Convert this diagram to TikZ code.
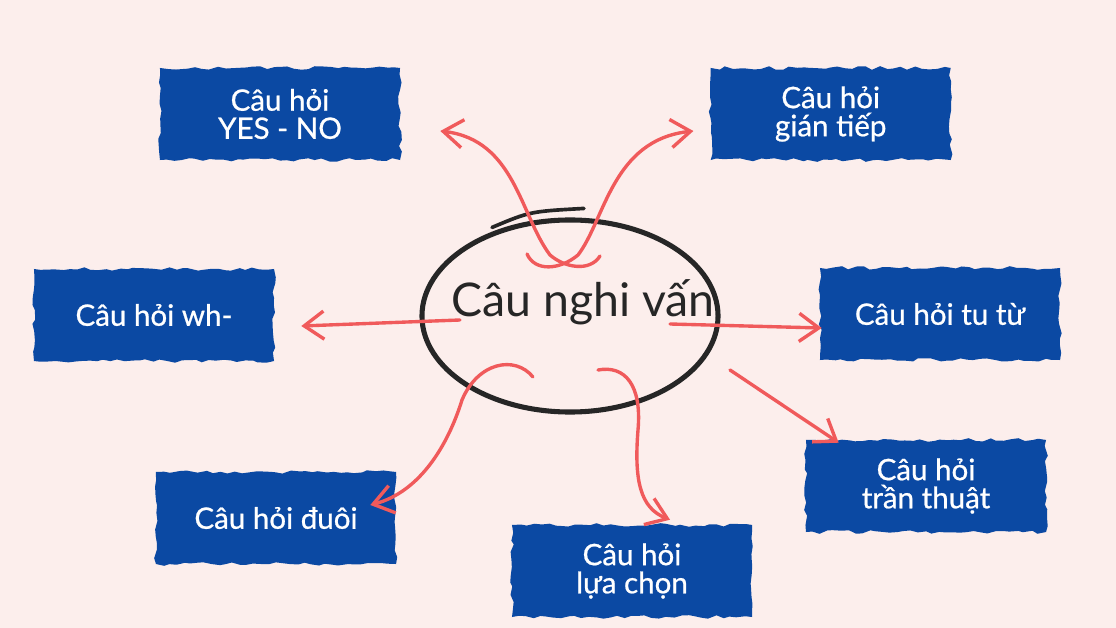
\documentclass[tikz,border=0pt]{standalone}
\usepackage{fontspec}
\setmainfont{Lato}
\newfontfamily\brushfont{Lato}[FakeBold=0.7]
\usetikzlibrary{positioning,calc,arrows.meta,shapes.geometric,decorations.pathmorphing}
\definecolor{paper}{HTML}{FCEEEC}
\definecolor{brushblue}{HTML}{0B49A3}
\definecolor{arrowred}{HTML}{F05A5B}
\definecolor{ink}{HTML}{262626}

\begin{document}
\begin{tikzpicture}[x=0.025cm,y=-0.025cm,
    qbox/.style={rectangle,fill=brushblue,minimum width=6cm,minimum height=2.3cm,
      text=white,font=\brushfont\fontsize{21}{20}\selectfont,align=center,
      decorate,decoration={random steps,segment length=5pt,amplitude=1.3pt}},
    hub/.style={ellipse,draw=ink,line width=3.6pt,minimum width=7.4cm,minimum height=4.8cm},
    edge/.style={-{Straight Barb[length=14pt,width=20pt]},arrowred,line width=2.4pt,line cap=round}]

    \pgfmathsetseed{7}
    \fill[paper] (0,0) rectangle (1116,628);
    \useasboundingbox (0,0) rectangle (1116,628);

    %--------------------------------------------
    % Nodes
    \node[hub] (hub) at (570,316) {};
    \draw[ink, line width=2.6pt, line cap=round] ([shift={(-78,10)}]hub.north)
        .. controls ([shift={(-40,-6)}]hub.north) .. ([shift={(14,-9)}]hub.north);
    \node[font=\fontsize{33}{34}\selectfont, text=ink] (title) at ([shift={(13,-14)}]hub.center) {Câu nghi vấn};

    \node[qbox] (yesno) at (280,114) {Câu hỏi\\YES - NO};
    \node[qbox, right=7.75cm of yesno] (indirect) {Câu hỏi\\gián tiếp};
    \node[qbox] (wh) at (154,315) {Câu hỏi wh-};
    \node[qbox] (rhet) at (940,314) {Câu hỏi tu từ};
    \node[qbox] (stmt) at (926,486) {Câu hỏi\\trần thuật};
    \node[qbox] (choice) at (632,571) {Câu hỏi\\lựa chọn};
    \node[qbox] (tag) at (276,518) {Câu hỏi đuôi};

    %--------------------------------------------
    % Start points inside the ellipse
    \coordinate (s-yn) at (600,256);
    \coordinate (s-gt) at (527,254);
    \coordinate (s-wh) at (460,320);
    \coordinate (s-tt) at (670,324);
    \coordinate (s-tr) at (730,370);
    \coordinate (s-du) at (533,377);
    \coordinate (s-lc) at (598,370);

    %--------------------------------------------
    % Edges
    \draw[edge] (s-yn) .. controls (590,272) and (565,268) .. (550,255)
        .. controls (520,215) and (515,140) .. ([shift={(40,17)}]yesno.east);
    \draw[edge] (s-gt) .. controls (535,272) and (560,270) .. (578,255)
        .. controls (605,220) and (612,140) .. ([shift={(-17,17)}]indirect.west);
    \draw[edge] (s-wh) -- ([shift={(27,11)}]wh.east);
    \draw[edge] (s-tt) -- ([shift={(2,14)}]rhet.west);
    \draw[edge] (s-tr) -- ([shift={(33,3)}]stmt.north west);
    \draw[edge] (s-du) .. controls (515,355) and (478,362) .. (462,400)
        .. controls (448,445) and (420,492) .. ([shift={(-26,-13)}]tag.east);
    \draw[edge] (s-lc) .. controls (625,365) and (642,385) .. (638,430)
        .. controls (634,480) and (640,508) .. ([shift={(38,-5)}]choice.north);
\end{tikzpicture}
\end{document}
